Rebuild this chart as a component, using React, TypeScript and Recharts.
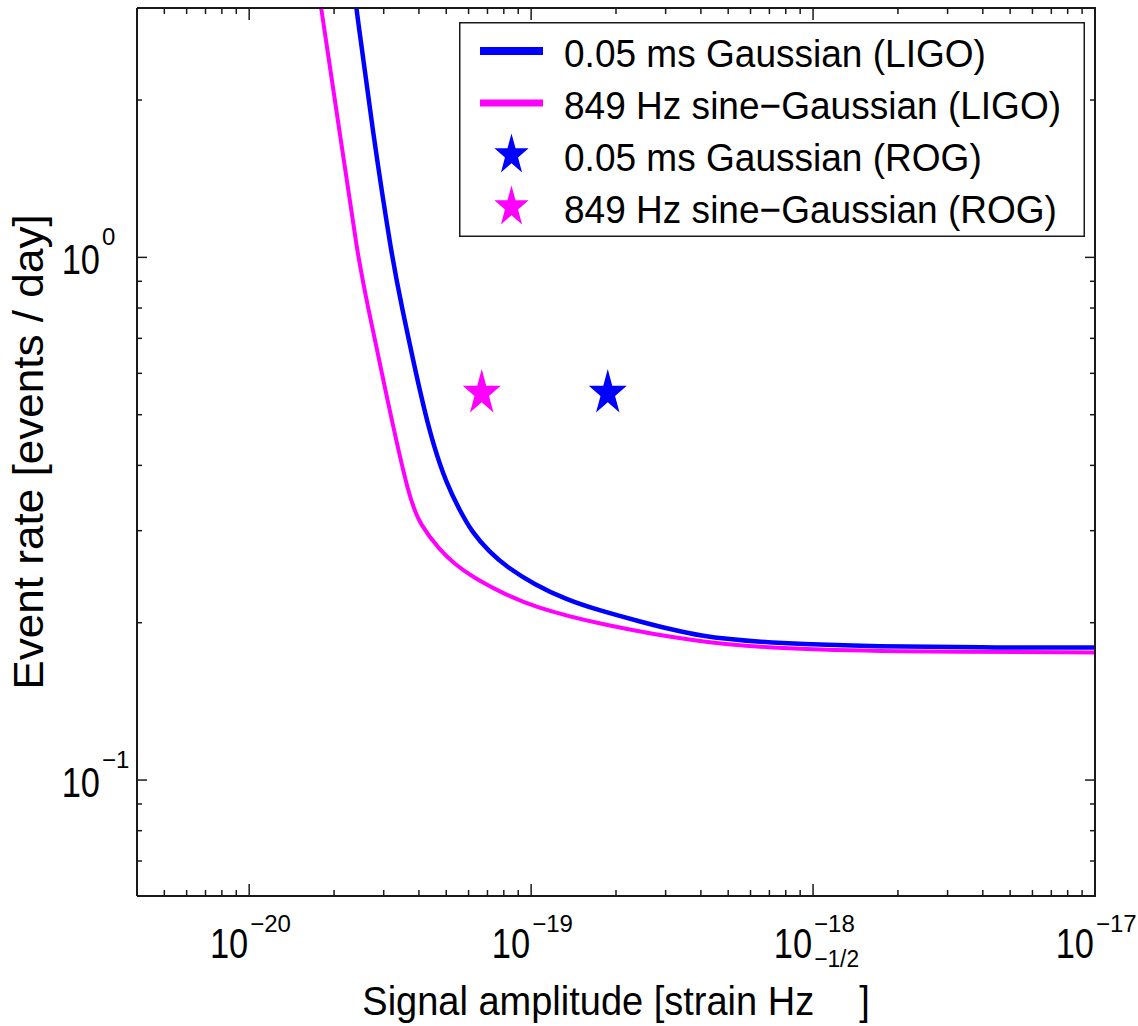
import React from 'react';
import { ComposedChart, Line, Scatter, XAxis, YAxis, Legend } from 'recharts';

const FONT = '"Liberation Sans", Arial, Helvetica, sans-serif';
const BLUE = '#0000ff';
const MAGENTA = '#ff00ff';
const INK = '#1a1a1a';

// LIGO curves: amplitude [strain Hz^-1/2] vs rate [events/day]
const gaussAmp = [
  2.4e-20, 2.75e-20, 3.21e-20, 3.44e-20, 4.09e-20, 4.5e-20, 5.0e-20, 5.57e-20, 6.19e-20, 7.11e-20,
  8.17e-20, 1.03e-19, 1.33e-19, 1.75e-19, 2.29e-19, 3.96e-19, 7.61e-19, 1.72e-18, 3.9e-18, 1e-17,
];
const gaussRate = [
  3.0, 1.72, 1.0, 0.827, 0.533, 0.4375, 0.37, 0.3288, 0.2972, 0.2734,
  0.256, 0.2364, 0.2215, 0.211, 0.2028, 0.1874, 0.1825, 0.1801, 0.1793, 0.1793,
];
const sgAmp = [
  1.8e-20, 2.1e-20, 2.43e-20, 2.61e-20, 3.09e-20, 3.7e-20, 4.05e-20, 4.73e-20, 5.39e-20, 6.19e-20,
  7.72e-20, 1.01e-19, 1.75e-19, 3.96e-19, 7.61e-19, 1.72e-18, 1e-17,
];
const sgRate = [
  3.0, 1.72, 1.0, 0.827, 0.533, 0.3435, 0.3077, 0.2758, 0.2582, 0.2449,
  0.2294, 0.2147, 0.1984, 0.1833, 0.1785, 0.1762, 0.1754,
];

// ROG points
const rogGaussAmp = [1.87e-19];
const rogGaussRate = [0.55];
const rogSgAmp = [6.68e-20];
const rogSgRate = [0.55];

// axis ticks
const xMajor = [1e-20, 1e-19, 1e-18, 1e-17];
const xExp = ['\u221220', '\u221219', '\u221218', '\u221217'];
const xMinor = [
  5e-21, 6e-21, 7e-21, 8e-21, 9e-21,
  2e-20, 3e-20, 4e-20, 5e-20, 6e-20, 7e-20, 8e-20, 9e-20,
  2e-19, 3e-19, 4e-19, 5e-19, 6e-19, 7e-19, 8e-19, 9e-19,
  2e-18, 3e-18, 4e-18, 5e-18, 6e-18, 7e-18, 8e-18, 9e-18,
];
const yMajor = [0.1, 1];
const yExp = ['\u22121', '0'];
const yMinor = [0.07, 0.08, 0.09, 0.2, 0.3, 0.4, 0.5, 0.6, 0.7, 0.8, 0.9, 2];

const xTicks = [...xMinor, ...xMajor].sort((a, b) => a - b);
const yTicks = [...yMinor, ...yMajor].sort((a, b) => a - b);

const gaussLine = gaussAmp.map((x, i) => ({ x, y: gaussRate[i] }));
const sgLine = sgAmp.map((x, i) => ({ x, y: sgRate[i] }));
const rogGauss = rogGaussAmp.map((x, i) => ({ x, y: rogGaussRate[i] }));
const rogSg = rogSgAmp.map((x, i) => ({ x, y: rogSgRate[i] }));

const X_DOMAIN: [number, number] = [4e-21, 1e-17];
const Y_DOMAIN: [number, number] = [0.06, 3];

// chart geometry
const W = 1138;
const H = 1026;
const MARGIN = { top: 8, right: 43, bottom: 0, left: 0 };
const PLOT_TOP = MARGIN.top;
const PLOT_RIGHT = W - MARGIN.right;
const FRAME_W = 2;

const majorIndex = (list: number[], v: number) =>
  list.findIndex((m) => Math.abs(m - v) / m < 1e-6);

const starPoints = (cx: number, cy: number, r: number, sy: number) => {
  const pts: string[] = [];
  for (let k = 0; k < 10; k++) {
    const rad = k % 2 === 0 ? r : r * 0.382;
    const a = (Math.PI / 5) * k;
    pts.push(`${cx + rad * Math.sin(a)},${cy - rad * Math.cos(a) * sy}`);
  }
  return pts.join(' ');
};

// "10" with an exponent: base ends at x, exponent starts at x
const PowerLabel = ({ x, y, exp, dy }: { x: number; y: number; exp: string; dy: number }) => (
  <g fontFamily={FONT} fill="#000">
    <text transform={`translate(${x - 1},${y}) scale(0.82,1)`} textAnchor="end" fontSize={42}>
      10
    </text>
    <text x={x + 1} y={y + dy} textAnchor="start" fontSize={24}>
      {exp}
    </text>
  </g>
);

// bottom tick + mirrored tick on the top edge of the box
const BottomTick = (props: any) => {
  const { x, y, payload } = props;
  const i = majorIndex(xMajor, payload.value);
  const len = i >= 0 ? 12 : 6;
  return (
    <g>
      <line x1={x} x2={x} y1={y} y2={y - len} stroke={INK} strokeWidth={1.5} />
      <line x1={x} x2={x} y1={PLOT_TOP} y2={PLOT_TOP + len} stroke={INK} strokeWidth={1.5} />
      {i >= 0 && <PowerLabel x={x} y={y + 62} exp={xExp[i]} dy={-26} />}
    </g>
  );
};

// left tick + mirrored tick on the right edge of the box
const LeftTick = (props: any) => {
  const { x, y, payload } = props;
  const i = majorIndex(yMajor, payload.value);
  const len = i >= 0 ? 10 : 5;
  return (
    <g>
      <line x1={x} x2={x + len} y1={y} y2={y} stroke={INK} strokeWidth={1.5} />
      <line x1={PLOT_RIGHT} x2={PLOT_RIGHT - len} y1={y} y2={y} stroke={INK} strokeWidth={1.5} />
      {i >= 0 && <PowerLabel x={101} y={y + 17} exp={yExp[i]} dy={-29} />}
    </g>
  );
};

// x title, plus the top edge of the box
const XLabel = (props: any) => {
  const vb = props.viewBox || { x: 137, y: 896, width: 958, height: 130 };
  const cx = vb.x + vb.width / 2;
  return (
    <g>
      <line
        x1={vb.x}
        x2={vb.x + vb.width + 1}
        y1={PLOT_TOP}
        y2={PLOT_TOP}
        stroke={INK}
        strokeWidth={FRAME_W}
      />
      <g transform={`translate(${cx},${vb.y + 119}) scale(0.95,1)`}>
        <text textAnchor="middle" fontFamily={FONT} fontSize={40} fill="#000">
          Signal amplitude [strain Hz
          <tspan dy={-48} fontSize={24}>{'\u22121/2'}</tspan>
          <tspan dy={48}>]</tspan>
        </text>
      </g>
    </g>
  );
};

// y title, plus the right edge of the box
const YLabel = (props: any) => {
  const vb = props.viewBox || { x: 0, y: 8, width: 137, height: 888 };
  const cy = vb.y + vb.height / 2;
  return (
    <g>
      <line
        x1={PLOT_RIGHT}
        x2={PLOT_RIGHT}
        y1={vb.y}
        y2={vb.y + vb.height + 1}
        stroke={INK}
        strokeWidth={FRAME_W}
      />
      <g transform={`translate(43,${cy}) rotate(-90) scale(1.05,1)`}>
        <text textAnchor="middle" fontFamily={FONT} fontSize={42} fill="#000">
          Event rate [events / day]
        </text>
      </g>
    </g>
  );
};

const legendRows = [
  { kind: 'line', color: BLUE, width: 8, label: '0.05 ms Gaussian (LIGO)' },
  { kind: 'line', color: MAGENTA, width: 7, label: '849 Hz sine\u2212Gaussian (LIGO)' },
  { kind: 'star', color: BLUE, width: 0, label: '0.05 ms Gaussian (ROG)' },
  { kind: 'star', color: MAGENTA, width: 0, label: '849 Hz sine\u2212Gaussian (ROG)' },
];

const LegendBox = () => (
  <svg width={626} height={215} style={{ display: 'block' }}>
    <rect x={0.75} y={0.75} width={624.5} height={213.5} fill="#fff" stroke={INK} strokeWidth={1.5} />
    {legendRows.map((r, i) => {
      const cy = 29 + i * 52;
      return (
        <g key={r.label}>
          {r.kind === 'line' ? (
            <line x1={21} x2={84} y1={cy} y2={cy} stroke={r.color} strokeWidth={r.width} />
          ) : (
            <polygon points={starPoints(52.5, cy, 18, 1.2)} fill={r.color} />
          )}
          <text
            transform={`translate(105,${cy + 16}) scale(0.95,1)`}
            fontFamily={FONT}
            fontSize={39}
            fill="#000"
          >
            {r.label}
          </text>
        </g>
      );
    })}
  </svg>
);

export default function App() {
  return (
    <div style={{ position: 'absolute', left: 0, top: 0, width: W, height: H, background: '#fff' }}>
      <ComposedChart width={W} height={H} margin={MARGIN}>
        <XAxis
          dataKey="x"
          type="number"
          scale="log"
          domain={X_DOMAIN}
          allowDataOverflow
          ticks={xTicks}
          interval={0}
          height={130}
          tickSize={0}
          tickMargin={0}
          tickLine={false}
          tick={<BottomTick />}
          axisLine={{ stroke: INK, strokeWidth: FRAME_W }}
          label={XLabel}
        />
        <YAxis
          dataKey="y"
          type="number"
          scale="log"
          domain={Y_DOMAIN}
          allowDataOverflow
          ticks={yTicks}
          interval={0}
          width={137}
          tickSize={0}
          tickMargin={0}
          tickLine={false}
          tick={<LeftTick />}
          axisLine={{ stroke: INK, strokeWidth: FRAME_W }}
          label={YLabel}
        />
        <Line
          data={sgLine}
          dataKey="y"
          type="basis"
          stroke={MAGENTA}
          strokeWidth={4}
          dot={false}
          activeDot={false}
          isAnimationActive={false}
        />
        <Line
          data={gaussLine}
          dataKey="y"
          type="basis"
          stroke={BLUE}
          strokeWidth={4.5}
          dot={false}
          activeDot={false}
          isAnimationActive={false}
        />
        <Scatter
          data={rogSg}
          fill={MAGENTA}
          isAnimationActive={false}
          shape={(p: any) => <polygon points={starPoints(p.cx, p.cy, 20, 1.2)} fill={MAGENTA} />}
        />
        <Scatter
          data={rogGauss}
          fill={BLUE}
          isAnimationActive={false}
          shape={(p: any) => <polygon points={starPoints(p.cx, p.cy, 20, 1.2)} fill={BLUE} />}
        />
        <Legend
          layout="horizontal"
          verticalAlign="middle"
          align="center"
          wrapperStyle={{ left: 459, top: 22, width: 626, height: 215 }}
          content={() => <LegendBox />}
        />
      </ComposedChart>
    </div>
  );
}
